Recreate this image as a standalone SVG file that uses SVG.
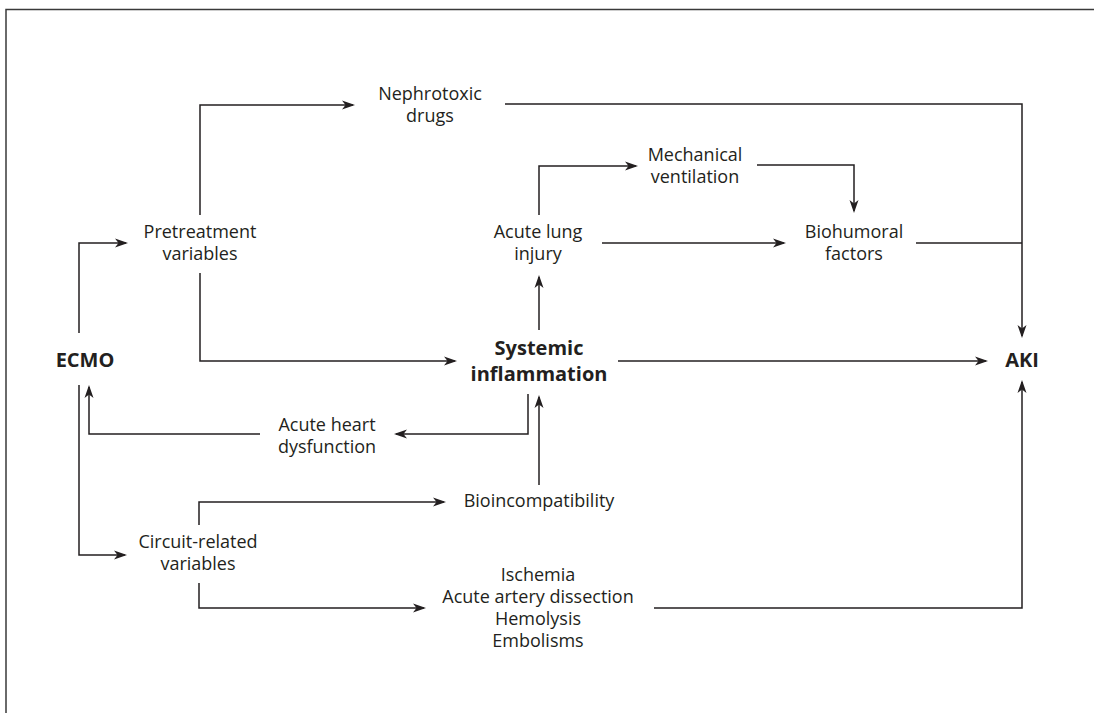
<svg xmlns="http://www.w3.org/2000/svg" width="1094" height="713" viewBox="0 0 1094 713">
<defs>
<style>
.t{font-family:"Open Sans","Noto Sans","Liberation Sans",sans-serif;font-size:18px;fill:#231f20;text-anchor:middle}
.b{font-family:"Open Sans","Noto Sans","Liberation Sans",sans-serif;font-size:20px;font-weight:bold;fill:#231f20;text-anchor:middle}
.c{fill:none;stroke:#231f20;stroke-width:1.5}
.a{marker-end:url(#arr)}
</style>
<marker id="arr" markerUnits="userSpaceOnUse" markerWidth="14" markerHeight="11" refX="11" refY="5" orient="auto">
<path d="M0,0.5 L13,5 L0,9.5 L3.5,5 Z" fill="#231f20"/>
</marker>
</defs>
<rect width="1094" height="713" fill="#ffffff"/>
<path d="M6,713 V9.5 H1094" fill="none" stroke="#3a3a3a" stroke-width="1.5"/>
<g id="connectors">
<path class="c a" d="M79,333 V243 H126"/>
<path class="c a" d="M200,215 V105 H353"/>
<path class="c a" d="M200,273 V361 H455"/>
<path class="c a" d="M505,104 H1022 V336"/>
<path class="c" d="M916,243 H1022"/>
<path class="c a" d="M539,215 V166 H636"/>
<path class="c a" d="M757,165 H854 V211"/>
<path class="c a" d="M602,243 H784"/>
<path class="c a" d="M539,330 V277"/>
<path class="c a" d="M618,361 H986"/>
<path class="c a" d="M528,394 V434 H396"/>
<path class="c a" d="M260,434 H89 V387"/>
<path class="c a" d="M79,385 V555 H125"/>
<path class="c a" d="M199,525 V502 H444"/>
<path class="c a" d="M539,485 V397"/>
<path class="c a" d="M199,583 V608 H424"/>
<path class="c a" d="M654,608 H1022 V382"/>
</g>
<g id="ecmo"><text class="b" x="85" y="367">ECMO</text></g>
<g id="pretreatment"><text class="t" x="200" y="238">Pretreatment</text><text class="t" x="200" y="260">variables</text></g>
<g id="nephrotoxic"><text class="t" x="430" y="100">Nephrotoxic</text><text class="t" x="430" y="122">drugs</text></g>
<g id="mechanical"><text class="t" x="695" y="161">Mechanical</text><text class="t" x="695" y="183">ventilation</text></g>
<g id="lung"><text class="t" x="538" y="238">Acute lung</text><text class="t" x="538" y="260">injury</text></g>
<g id="biohumoral"><text class="t" x="854" y="238">Biohumoral</text><text class="t" x="854" y="260">factors</text></g>
<g id="systemic"><text class="b" x="539" y="355">Systemic</text><text class="b" x="539" y="381">inflammation</text></g>
<g id="aki"><text class="b" x="1022" y="367">AKI</text></g>
<g id="heart"><text class="t" x="327" y="431">Acute heart</text><text class="t" x="327" y="453">dysfunction</text></g>
<g id="bioincompatibility"><text class="t" x="539" y="507">Bioincompatibility</text></g>
<g id="circuit"><text class="t" x="198" y="548">Circuit-related</text><text class="t" x="198" y="570">variables</text></g>
<g id="ischemia"><text class="t" x="538" y="581">Ischemia</text><text class="t" x="538" y="603">Acute artery dissection</text><text class="t" x="538" y="625">Hemolysis</text><text class="t" x="538" y="647">Embolisms</text></g>
</svg>
